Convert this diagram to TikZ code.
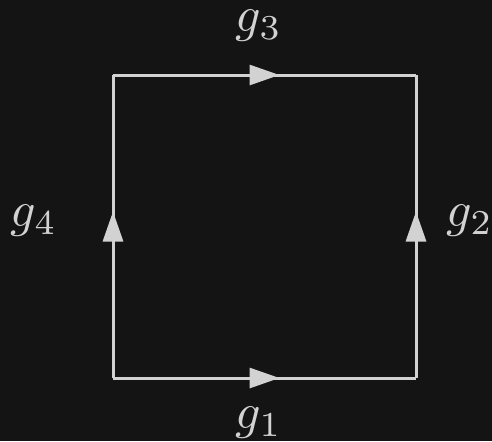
\documentclass[tikz,border=0pt]{standalone}
\usepackage{amsmath,amssymb}
\usepackage{tikz}
\usepackage{xcolor}
\usetikzlibrary{arrows.meta,decorations.markings}
\definecolor{loopBg}{RGB}{20,20,20}
\definecolor{loopInk}{RGB}{210,210,210}
\tikzset{
  edge/.style={draw=loopInk,line width=0.6pt,postaction={decorate},
    decoration={markings,mark=at position 0.5 with {\arrow[xshift=3pt,loopInk]{Triangle[length=6pt,width=4pt]}}}},
  lbl/.style={text=loopInk,inner sep=0pt}
}

\begin{document}
\begin{tikzpicture}[x=0.2pt,y=-0.2pt]
  \fill[loopBg] (0,0) rectangle (492,441);
  \useasboundingbox (0,0) rectangle (492,441);
  \coordinate (sw) at (113,378);
  \coordinate (se) at (416,378);
  \coordinate (ne) at (416,75);
  \coordinate (nw) at (113,75);
  \draw[edge] (sw) -- (se);
  \draw[edge] (se) -- (ne);
  \draw[edge] (nw) -- (ne);
  \draw[edge] (sw) -- (nw);
  \node[lbl] (g1) at (259,423) {$g_1$};
  \node[lbl] (g2) at (470,221) {$g_2$};
  \node[lbl] (g3) at (259,26) {$g_3$};
  \node[lbl] (g4) at (34,221) {$g_4$};
\end{tikzpicture}
\end{document}
